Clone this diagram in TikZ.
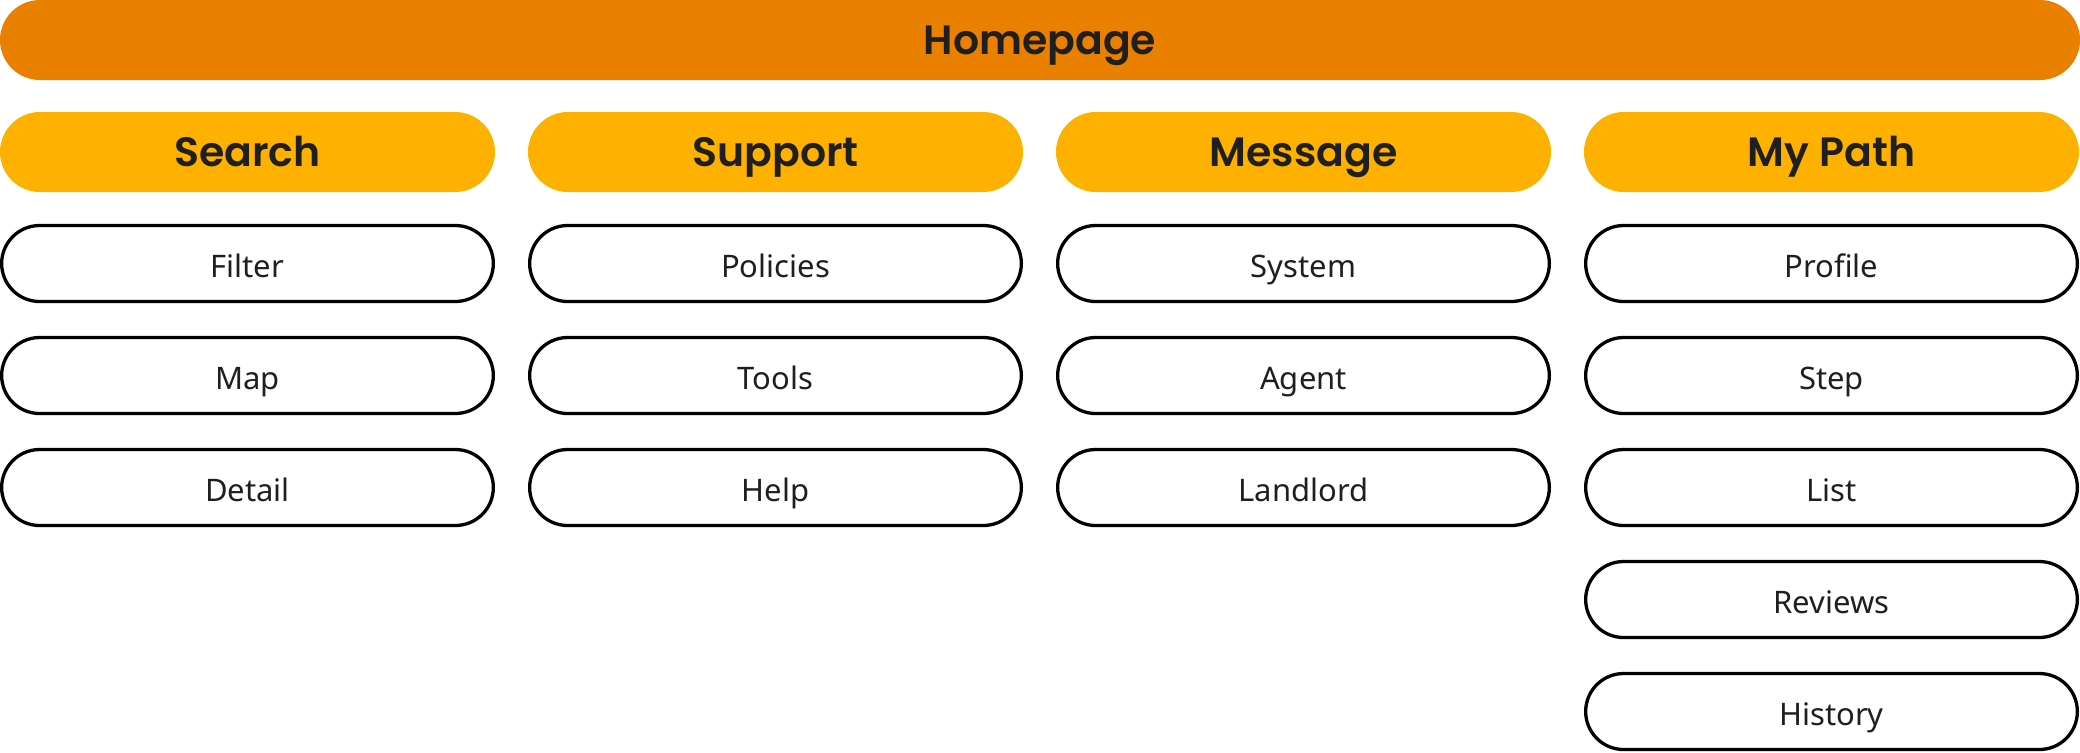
\documentclass[tikz,border=0pt]{standalone}
\usepackage{fontspec}
\setmainfont{Noto Sans}
\newfontfamily\popfont{Poppins}[BoldFont={* SemiBold}]
\definecolor{homeor}{HTML}{E98000}
\definecolor{headyel}{HTML}{FFB100}
\definecolor{txtdark}{HTML}{1F1F1F}
\begin{document}
\begin{tikzpicture}[x=0.5pt,y=-0.5pt,
  homebox/.style={fill=homeor, draw=none, rounded corners=20pt, minimum width=1040pt, minimum height=40pt, inner sep=0pt, text height=14pt, text depth=0pt, text=txtdark, font=\popfont\bfseries\fontsize{20.5}{24}\selectfont},
  headbox/.style={fill=headyel, draw=none, rounded corners=20pt, minimum width=247.5pt, minimum height=40pt, inner sep=0pt, text height=14pt, text depth=0pt, text=txtdark, font=\popfont\bfseries\fontsize{20.5}{24}\selectfont},
  itembox/.style={fill=white, draw=black, line width=1.65pt, rounded corners=19pt, minimum width=245.85pt, minimum height=38pt, inner sep=0pt, text height=13.6pt, text depth=0pt, text=txtdark, font=\fontsize{15.5}{18}\selectfont}
]
\useasboundingbox (0,0) rectangle (2080,752);
\node[homebox] (home) at (1040,40) {Homepage};
% headers
\node[headbox] (search) at (247.5,152) {Search};
\node[headbox] (support) at (775.5,152) {Support};
\node[headbox] (message) at (1303.5,152) {Message};
\node[headbox] (mypath) at (1831.5,152) {My Path};
% Search column
\node[itembox] (filter) at (247.5,263.5) {Filter};
\node[itembox] (map) at (247.5,375.5) {Map};
\node[itembox] (detail) at (247.5,487.5) {Detail};
% Support column
\node[itembox] (policies) at (775.5,263.5) {Policies};
\node[itembox] (tools) at (775.5,375.5) {Tools};
\node[itembox] (help) at (775.5,487.5) {Help};
% Message column
\node[itembox] (system) at (1303.5,263.5) {System};
\node[itembox] (agent) at (1303.5,375.5) {Agent};
\node[itembox] (landlord) at (1303.5,487.5) {Landlord};
% My Path column
\node[itembox] (profile) at (1831.5,263.5) {Profile};
\node[itembox] (stepitem) at (1831.5,375.5) {Step};
\node[itembox] (list) at (1831.5,487.5) {List};
\node[itembox] (reviews) at (1831.5,599.5) {Reviews};
\node[itembox] (history) at (1831.5,711.5) {History};
\end{tikzpicture}
\end{document}
